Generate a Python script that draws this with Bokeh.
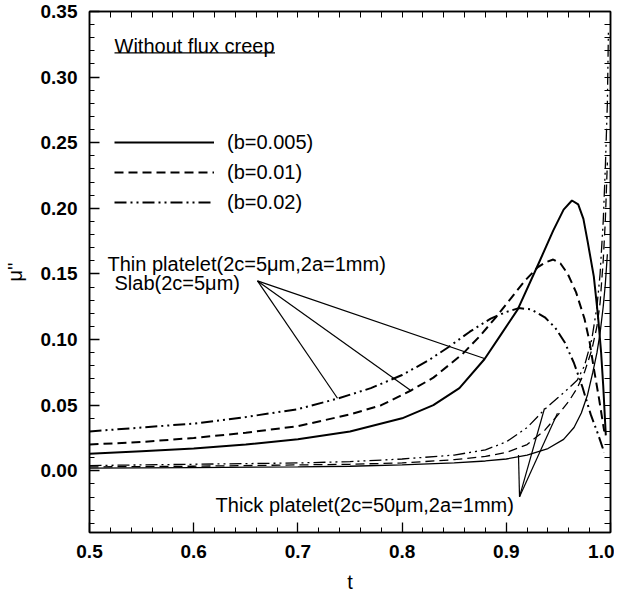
from bokeh.plotting import figure
from bokeh.models import (Range1d, FixedTicker, PrintfTickFormatter, LinearAxis,
                          Label, Legend, LegendItem)
from bokeh.embed import file_html
from bokeh.resources import INLINE

# ---- data ----
# Thin platelet / slab curves
thin_solid_t = [0.5, 0.55, 0.6, 0.65, 0.7, 0.75, 0.8, 0.83, 0.855, 0.879, 0.895, 0.911, 0.931, 0.945,
                0.955, 0.963, 0.969, 0.974, 0.978, 0.984, 0.988, 0.991, 0.993, 0.9955]
thin_solid_mu = [0.013, 0.015, 0.017, 0.020, 0.024, 0.030, 0.040, 0.050, 0.063, 0.085, 0.104, 0.123, 0.158, 0.183,
                 0.199, 0.206, 0.203, 0.192, 0.175, 0.148, 0.118, 0.090, 0.065, 0.027]

thin_dash_t = [0.5, 0.55, 0.6, 0.65, 0.7, 0.75, 0.78, 0.808, 0.83, 0.858, 0.875, 0.89, 0.905, 0.918, 0.93,
               0.938, 0.945, 0.952, 0.959, 0.967, 0.975, 0.98, 0.984, 0.989, 0.994]
thin_dash_mu = [0.020, 0.022, 0.025, 0.029, 0.034, 0.043, 0.050, 0.061, 0.071, 0.089, 0.103, 0.117, 0.132, 0.145, 0.155,
                0.159, 0.161, 0.158, 0.150, 0.136, 0.116, 0.098, 0.078, 0.055, 0.030]

thin_dd_t = [0.5, 0.55, 0.6, 0.65, 0.7, 0.738, 0.77, 0.8, 0.825, 0.844, 0.865, 0.885, 0.9, 0.912, 0.924,
             0.937, 0.947, 0.956, 0.965, 0.973, 0.981, 0.988, 0.994]
thin_dd_mu = [0.030, 0.033, 0.036, 0.041, 0.047, 0.055, 0.063, 0.073, 0.084, 0.094, 0.106, 0.116, 0.121, 0.124, 0.123,
              0.117, 0.109, 0.098, 0.082, 0.064, 0.043, 0.028, 0.014]

# Thick platelet curves
thick_solid_t = [0.5, 0.6, 0.7, 0.75, 0.8, 0.85, 0.88, 0.9, 0.92, 0.94, 0.955, 0.965, 0.972, 0.978,
                 0.983, 0.987, 0.99, 0.993, 0.995, 0.997]
thick_solid_mu = [0.002, 0.0025, 0.003, 0.0035, 0.0045, 0.006, 0.0075, 0.009, 0.012, 0.017, 0.024, 0.033, 0.044, 0.058,
                  0.075, 0.090, 0.105, 0.125, 0.142, 0.165]

thick_dash_t = [0.5, 0.6, 0.7, 0.75, 0.8, 0.85, 0.88, 0.9, 0.92, 0.937, 0.95, 0.96, 0.968, 0.975,
                0.982, 0.987, 0.99, 0.993, 0.995, 0.997]
thick_dash_mu = [0.003, 0.0035, 0.0045, 0.005, 0.006, 0.0085, 0.011, 0.014, 0.020, 0.031, 0.043, 0.053, 0.063, 0.075,
                 0.092, 0.110, 0.128, 0.160, 0.190, 0.235]

thick_dd_t = [0.5, 0.6, 0.7, 0.75, 0.8, 0.85, 0.88, 0.9, 0.92, 0.937, 0.95, 0.96, 0.968, 0.975,
              0.982, 0.987, 0.99, 0.993, 0.995, 0.997, 0.998]
thick_dd_mu = [0.004, 0.005, 0.006, 0.007, 0.009, 0.012, 0.016, 0.022, 0.033, 0.047, 0.056, 0.063, 0.069, 0.080,
               0.100, 0.125, 0.150, 0.190, 0.230, 0.280, 0.335]

legend_labels = ["(b=0.005)", "(b=0.01)", "(b=0.02)"]

# Leader lines (anchor -> curve points)
thin_anchor = (0.6612, 0.1447)
thin_targets_t = [0.738, 0.808, 0.879]
thin_targets_mu = [0.0553, 0.0614, 0.0856]
thick_anchor = (0.9127, -0.0197)
thick_targets_t = [0.9117, 0.9367, 0.9491]
thick_targets_mu = [0.012, 0.0477, 0.0439]

x_ticks = [0.5, 0.6, 0.7, 0.8, 0.9, 1.0]
x_minor = [0.52, 0.54, 0.56, 0.58, 0.62, 0.64, 0.66, 0.68, 0.72, 0.74, 0.76, 0.78,
           0.82, 0.84, 0.86, 0.88, 0.92, 0.94, 0.96, 0.98]
y_ticks = [0.0, 0.05, 0.10, 0.15, 0.20, 0.25, 0.30, 0.35]
y_minor = [-0.04, -0.03, -0.02, -0.01, 0.01, 0.02, 0.03, 0.04, 0.06, 0.07, 0.08, 0.09,
           0.11, 0.12, 0.13, 0.14, 0.16, 0.17, 0.18, 0.19, 0.21, 0.22, 0.23, 0.24,
           0.26, 0.27, 0.28, 0.29, 0.31, 0.32, 0.33, 0.34]

FONT = "Liberation Sans"
FS = "20px"
TFS = "19px"

p = figure(frame_width=521, frame_height=521, output_backend="svg", toolbar_location=None,
           x_range=Range1d(0.5, 1.0), y_range=Range1d(-0.047, 0.35),
           min_border_left=84, min_border_right=4, min_border_top=11, min_border_bottom=20)
p.grid.visible = False
p.background_fill_color = "white"
p.border_fill_color = "white"
p.outline_line_color = "black"
p.outline_line_width = 1.5


def style_axis(ax):
    ax.axis_line_color = "black"
    ax.axis_line_width = 1.5
    ax.major_tick_in = 10
    ax.major_tick_out = 0
    ax.minor_tick_in = 5
    ax.minor_tick_out = 0
    ax.major_tick_line_color = "black"
    ax.minor_tick_line_color = "black"
    ax.major_tick_line_width = 1.3
    ax.minor_tick_line_width = 1.0
    ax.major_label_text_font = FONT
    ax.major_label_text_font_style = "bold"
    ax.major_label_text_color = "black"
    ax.major_label_text_font_size = TFS


p.xaxis.ticker = FixedTicker(ticks=x_ticks, minor_ticks=x_minor)
p.yaxis.ticker = FixedTicker(ticks=y_ticks, minor_ticks=y_minor)
p.xaxis.formatter = PrintfTickFormatter(format="%.1f")
p.yaxis.formatter = PrintfTickFormatter(format="%.2f")
style_axis(p.xaxis[0])
style_axis(p.yaxis[0])
p.xaxis.major_label_standoff = 12
p.yaxis.major_label_standoff = 12
p.xaxis.axis_label = "t"
p.yaxis.axis_label = "μ''"
for ax in (p.xaxis[0], p.yaxis[0]):
    ax.axis_label_text_font = FONT
    ax.axis_label_text_font_style = "normal"
    ax.axis_label_text_font_size = FS
    ax.axis_label_text_color = "black"
p.xaxis.axis_label_standoff = 10
p.yaxis.axis_label_standoff = 12

# frame ticks on top and right (no labels)
top = LinearAxis(ticker=FixedTicker(ticks=[], minor_ticks=x_ticks + x_minor))
right = LinearAxis(ticker=FixedTicker(ticks=[], minor_ticks=y_ticks + y_minor))
for ax in (top, right):
    ax.axis_line_color = "black"
    ax.axis_line_width = 1.5
    ax.minor_tick_in = 6
    ax.minor_tick_out = 0
    ax.minor_tick_line_color = "black"
    ax.minor_tick_line_width = 1.0
    ax.major_tick_in = 0
    ax.major_tick_out = 0
    ax.major_label_standoff = 0
    ax.axis_label_standoff = 0
p.add_layout(top, "above")
p.add_layout(right, "right")

# ---- curves ----
DASH = "9 5"
DD = "12 4 2 4 2 4"
r1 = p.line(thin_solid_t, thin_solid_mu, line_color="black", line_width=2)
r2 = p.line(thin_dash_t, thin_dash_mu, line_color="black", line_width=2, line_dash=DASH)
r3 = p.line(thin_dd_t, thin_dd_mu, line_color="black", line_width=2, line_dash=DD)
p.line(thick_solid_t, thick_solid_mu, line_color="black", line_width=1.3)
p.line(thick_dash_t, thick_dash_mu, line_color="black", line_width=1.3, line_dash=DASH)
p.line(thick_dd_t, thick_dd_mu, line_color="black", line_width=1.3, line_dash=DD)

# ---- leader lines ----
p.segment(x0=[thin_anchor[0]] * 3, y0=[thin_anchor[1]] * 3,
          x1=thin_targets_t, y1=thin_targets_mu, line_color="black", line_width=1.2)
p.segment(x0=[thick_anchor[0]] * 3, y0=[thick_anchor[1]] * 3,
          x1=thick_targets_t, y1=thick_targets_mu, line_color="black", line_width=1.2)

# ---- texts ----
def add_label(x, y, txt):
    lab = Label(x=x, y=y, text=txt, text_font=FONT, text_font_size=FS,
                text_baseline="middle", text_align="left", text_color="black")
    p.add_layout(lab)

add_label(0.524, 0.324, "Without flux creep")
p.segment(x0=[0.524], y0=[0.3185], x1=[0.678], y1=[0.3185], line_color="black", line_width=1.3)
add_label(0.5173, 0.1576, "Thin platelet(2c=5μm,2a=1mm)")
add_label(0.524, 0.143, "Slab(2c=5μm)")
add_label(0.621, -0.0258, "Thick platelet(2c=50μm,2a=1mm)")

# ---- legend ----
legend = Legend(items=[LegendItem(label=legend_labels[0], renderers=[r1]),
                       LegendItem(label=legend_labels[1], renderers=[r2]),
                       LegendItem(label=legend_labels[2], renderers=[r3])],
                location=(25, 318), orientation="vertical",
                glyph_width=100, glyph_height=24, label_height=24,
                label_standoff=13, spacing=6, padding=0, margin=0,
                border_line_color=None, background_fill_alpha=0,
                label_text_font=FONT, label_text_font_size=FS,
                label_text_color="black")
p.add_layout(legend)

open("out.html", "w").write(file_html(p, INLINE))
